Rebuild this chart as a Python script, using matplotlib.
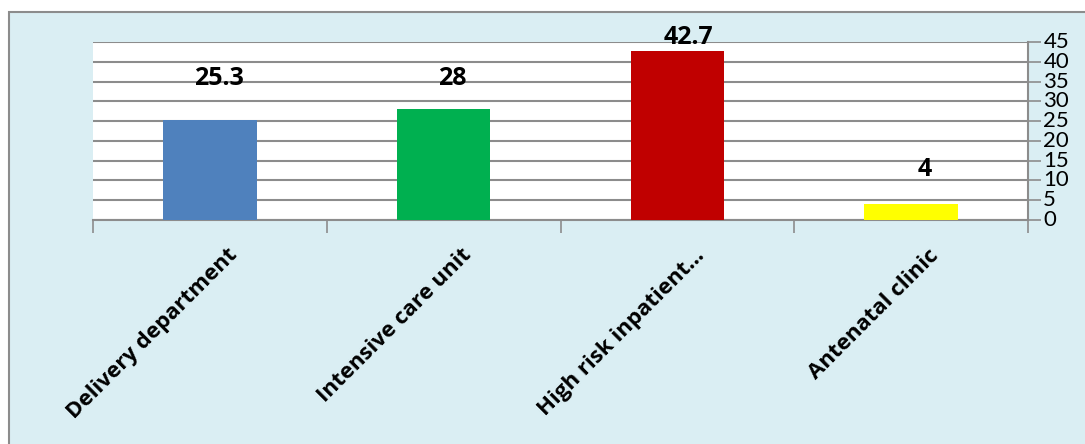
#!/usr/bin/env python3
"""bar chart of cases by department"""

import matplotlib
matplotlib.use("Agg")
import matplotlib.pyplot as plt
from matplotlib.patches import Rectangle
from matplotlib.transforms import ScaledTranslation

# data
departments = ["Delivery department", "Intensive care unit",
               "High risk inpatient\u2026", "Antenatal clinic"]
values = [25.3, 28, 42.7, 4]
value_labels = ["25.3", "28", "42.7", "4"]
bar_colors = ["#4F81BD", "#00B050", "#C00000", "#FFFF00"]
yticks = list(range(0, 50, 5))

# label offsets from bar top (points), matching the picture
label_dx = [6.5, 6.5, 8, 10]
label_dy = [30, 22, 9.7, 24.8]

plt.rcParams["font.family"] = ["Lato", "DejaVu Sans"]
BOLD = ["Open Sans", "DejaVu Sans"]

fig = plt.figure(figsize=(10.85, 4.44), dpi=100)
fig.patch.set_facecolor("white")

# outer chart frame
W, H = 1085, 444
frame = Rectangle((9 / W, -0.05), (W - 9 + 20) / W, (H - 12) / H + 0.05,
                  transform=fig.transFigure, facecolor="#DAEEF3",
                  edgecolor="#8C8C8C", linewidth=1.5, zorder=-5)
fig.add_artist(frame)

ax = fig.add_axes([93 / W, 1 - 220 / H, (1028 - 93) / W, (220 - 42) / H])
ax.set_zorder(1)
ax.set_facecolor("white")

x = list(range(len(values)))
ax.bar(x, values, width=0.4, color=bar_colors, zorder=3)

# value labels
for xi, v, lab, dx, dy in zip(x, values, value_labels, label_dx, label_dy):
    ax.annotate(lab, (xi, v), xytext=(dx, dy), textcoords="offset points",
                ha="center", va="center", fontsize=18, fontweight="bold",
                family=BOLD, zorder=4)

# y axis on the right
ax.set_ylim(0, 45)
ax.set_yticks(yticks)
ax.yaxis.tick_right()
ax.tick_params(axis="y", labelsize=16, length=9, width=1.2,
               color="#8C8C8C", pad=2)
for t in ax.get_yticklabels():
    t.set_verticalalignment("center")
ax.yaxis.grid(True, color="#8C8C8C", linewidth=1.5, zorder=1)
ax.set_axisbelow(True)

# x axis
ax.set_xlim(-0.5, len(values) - 0.5)
ax.set_xticks(x)
ax.set_xticks([i - 0.5 for i in range(len(values) + 1)], minor=True)
ax.tick_params(axis="x", which="major", length=0)
ax.tick_params(axis="x", which="minor", length=9, width=1.2,
               color="#8C8C8C")
ax.set_xticklabels(departments, rotation=45, ha="right",
                   rotation_mode="anchor", fontsize=16, fontweight="bold",
                   family=BOLD)
shift = ScaledTranslation(17 / 100, -20 / 100, fig.dpi_scale_trans)
for t in ax.get_xticklabels():
    t.set_transform(t.get_transform() + shift)

for side in ["top", "left"]:
    ax.spines[side].set_visible(False)
ax.spines["bottom"].set_color("#8C8C8C")
ax.spines["bottom"].set_linewidth(1.5)
ax.spines["right"].set_color("#8C8C8C")
ax.spines["right"].set_linewidth(1.5)

fig.savefig("out.png", dpi=100)
